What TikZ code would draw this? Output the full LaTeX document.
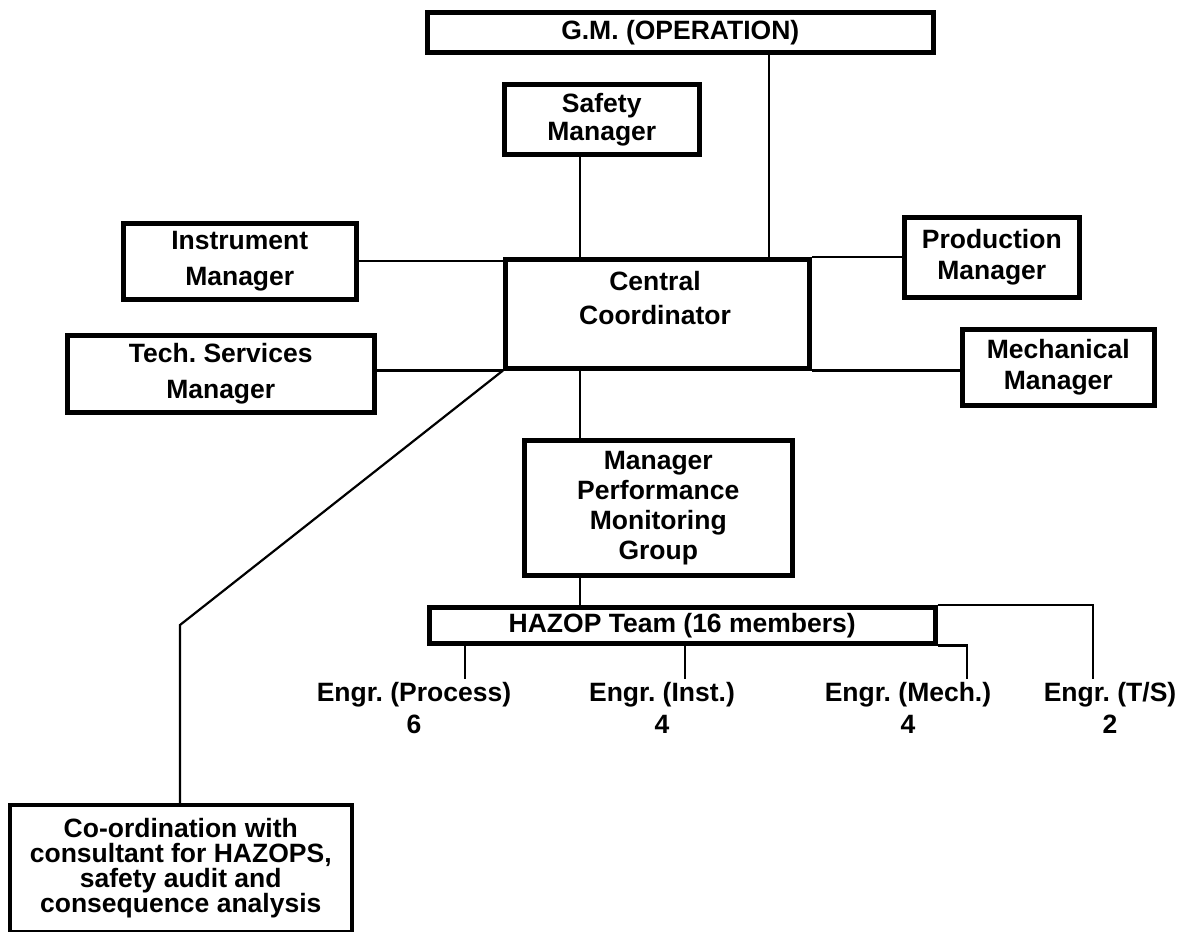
\documentclass[tikz,border=0pt]{standalone}
\usepackage{fontspec}
\setmainfont{Liberation Sans}
\frenchspacing
\usetikzlibrary{positioning,calc}
\tikzset{
  box/.style={rectangle, draw=black, line width=4.5pt, fill=white, align=center,
              inner sep=0pt, anchor=north west},
  thinbox/.style={box, line width=3.5pt},
  linesp/.style={font=\bfseries\fontsize{26.5}{#1}\selectfont},
  lbl/.style={align=center, inner sep=3pt},
  link/.style={draw=black, line width=2.2pt}
}

\begin{document}
\begin{tikzpicture}[x=1pt, y=-1pt, font=\bfseries\fontsize{26.5}{30}\selectfont]
  \useasboundingbox (0,0) rectangle (1195,932);
  % managers round the coordinator
  \node[box, minimum width=506, minimum height=40] (gm) at (425,10) {G.M. (OPERATION)};
  \node[box, linesp=28, minimum width=195, minimum height=70] (safety) at (502,82) {Safety\\Manager};
  \node[box, linesp=36, minimum width=233, minimum height=76] (inst) at (121,221) {Instrument\\Manager};
  \node[box, linesp=31, minimum width=175, minimum height=80] (prod) at (902,215) {Production\\Manager};
  \node[box, minimum width=304, minimum height=109] (cc) at (503,257) {};
  \node[lbl, linesp=34] (cctext) at (655,298) {Central\\Coordinator};
  \node[box, linesp=36, minimum width=307, minimum height=77] (tech) at (65,333) {Tech. Services\\Manager};
  \node[box, linesp=31, minimum width=192, minimum height=76] (mech) at (960,327) {Mechanical\\Manager};
  % monitoring group and team
  \node[box, linesp=30, minimum width=268, minimum height=135] (pmg) at (522,438) {Manager\\Performance\\Monitoring\\Group};
  \node[box, minimum width=506, minimum height=36] (hazop) at (427,605) {HAZOP Team (16 members)};
  \node[lbl, linesp=32] (eproc) at (414,708) {Engr. (Process)\\6};
  \node[lbl, linesp=32] (einst) at (662,708) {Engr. (Inst.)\\4};
  \node[lbl, linesp=32] (emech) at (908,708) {Engr. (Mech.)\\4};
  \node[lbl, linesp=32] (ets) at (1110,708) {Engr. (T/S)\\2};
  \node[thinbox, linesp=25, minimum width=342, minimum height=127] (coord) at (8,803)
    {Co-ordination with\\consultant for HAZOPS,\\safety audit and\\consequence analysis};

  \coordinate (gmx) at (769,0);
  \coordinate (midx) at (580,0);
  \coordinate (bend) at (180,625);
  \coordinate (procx) at (465,0);
  \coordinate (instx) at (685,0);
  \coordinate (mechx) at (967,0);
  \coordinate (tsx) at (1093,0);

  \draw[link] (gmx |- gm.south) -- (gmx |- cc.north);
  \draw[link] (midx |- safety.south) -- (midx |- cc.north);
  \draw[link] (inst.east) -- (inst.east -| cc.west);
  \draw[link] (prod.west) -- (prod.west -| cc.east);
  \draw[link] (cc.south west) -- (cc.south west -| tech.east);
  \draw[link] (cc.south east) -- (cc.south east -| mech.west);
  \draw[link] (cc.south west) -- (bend) -- (bend |- coord.north);
  \draw[link] (midx |- cc.south) -- (midx |- pmg.north);
  \draw[link] (midx |- pmg.south) -- (midx |- hazop.north);
  \draw[link] (procx |- hazop.south) -- (procx |- eproc.north);
  \draw[link] (instx |- hazop.south) -- (instx |- einst.north);
  \draw[link] (hazop.south east) -- (mechx |- hazop.south) -- (mechx |- emech.north);
  \draw[link] (hazop.north east) -- (tsx |- hazop.north) -- (tsx |- ets.north);
\end{tikzpicture}
\end{document}
